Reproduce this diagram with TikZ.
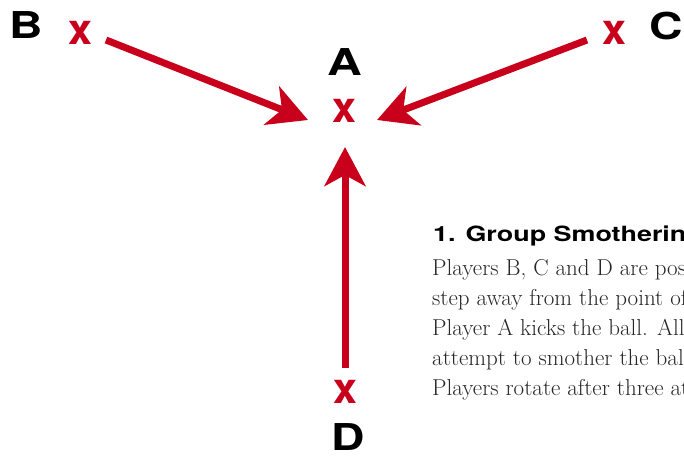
\documentclass[tikz,border=0pt]{standalone}
\usepackage{fontspec}
\newfontfamily\heros{TeX Gyre Heros}
\usetikzlibrary{arrows.meta,calc}
\definecolor{passred}{RGB}{200,0,28}
\tikzset{
  player/.style={font=\heros\bfseries\fontsize{37}{37}\selectfont, inner sep=0pt},
  spot/.style={text=passred, font=\heros\bfseries\fontsize{43}{43}\selectfont, inner sep=0pt},
  pass/.style={draw=passred, line width=7pt, -{Stealth[length=39pt,width=41pt,inset=11pt]}},
  heading/.style={font=\heros\bfseries\fontsize{21}{21}\selectfont, inner sep=0pt, anchor=base west},
  body/.style={font=\fontsize{23}{30}\selectfont, text=black!85, inner sep=0pt, anchor=base west}
}

\begin{document}
\begin{tikzpicture}[x=1pt,y=-1pt]
  \useasboundingbox (0,0) rectangle (684,455);
  \clip (0,0) rectangle (684,455);

  % the four spots
  \node[spot] (xa) at (344,111) {x};
  \node[spot] (xb) at (80,33) {x};
  \node[spot] (xc) at (614,33) {x};
  \node[spot] (xd) at (345,392) {x};

  % player names
  \node[player] (pa) at (345,62) {\scalebox{1.3}[1]{A}};
  \node[player] (pb) at (26,25) {\scalebox{1.25}[1]{B}};
  \node[player] (pc) at (666,26) {\scalebox{1.25}[1]{C}};
  \node[player] (pd) at (348,437) {\scalebox{1.25}[1]{D}};

  % ends of the passes
  \coordinate (b0) at ($(xb)+(26,7)$);
  \coordinate (ab) at ($(xa)+(-36,9)$);
  \coordinate (c0) at ($(xc)+(-27,7)$);
  \coordinate (ac) at ($(xa)+(33,9)$);
  \coordinate (d0) at ($(xd)+(0,-24)$);
  \coordinate (ad) at ($(xa)+(1,36)$);

  \draw[pass] (b0) -- (ab);
  \draw[pass] (c0) -- (ac);
  \draw[pass] (d0) -- (ad);

  % drill text
  \node[heading] (title) at (433,241) {\scalebox{1.28}[1]{1. Group Smothering}};
  \foreach \txt [count=\i from 0] in {{Players B, C and D are posi},
      {step away from the point of},
      {Player A kicks the ball. All},
      {attempt to smother the ball},
      {Players rotate after three att}}
    \node[body] (line\i) at (432,275+30*\i) {\txt};
\end{tikzpicture}
\end{document}
